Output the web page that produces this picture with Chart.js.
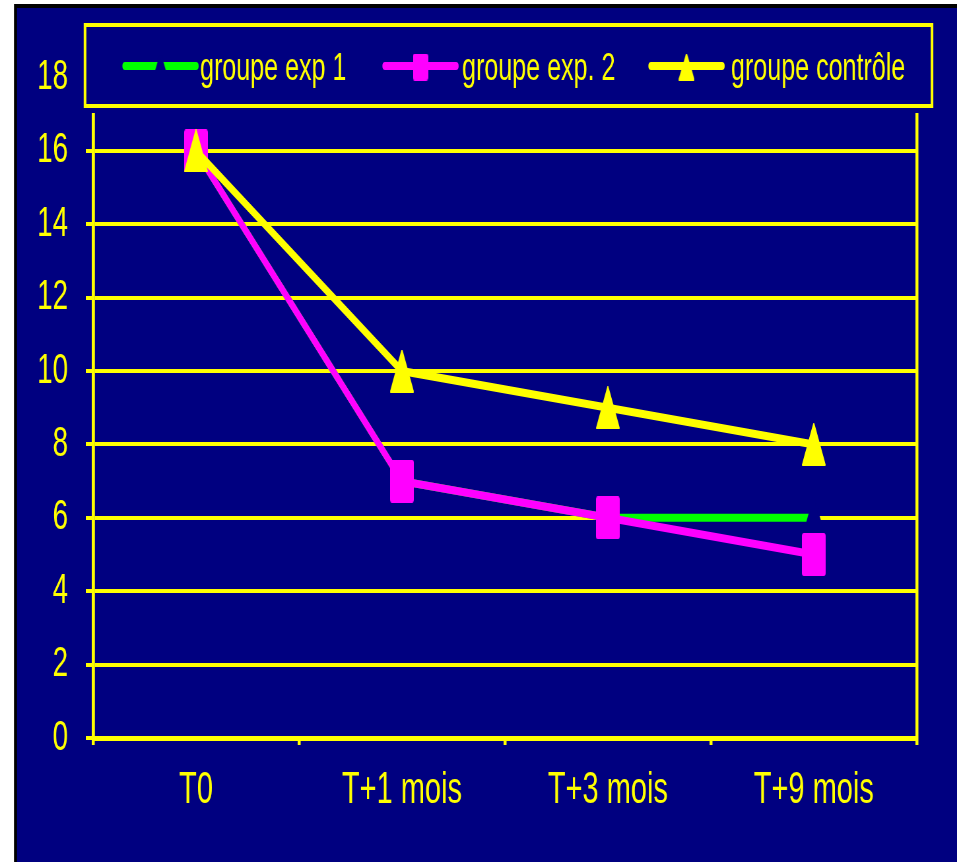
<!DOCTYPE html>
<html>
<head>
<meta charset="utf-8">
<script src="https://cdn.jsdelivr.net/npm/chart.js@4"></script>
<style>
    body { margin: 0; background: white; overflow: hidden; }
    #wrap { position: absolute; left: 0; top: 0; width: 1450px; height: 862px; transform: scaleX(0.66); transform-origin: 0 0; }
</style>
</head>
<body>
<div id="wrap"><canvas id="lineChart" width="1450" height="862"></canvas></div>
<script>
// DATA
let categories = ['T0', 'T+1 mois', 'T+3 mois', 'T+9 mois'];
let seriesNames = ['groupe exp 1', 'groupe exp. 2', 'groupe contrôle'];
let groupeExp1 = [16, 7, 6, 6];
let groupeExp2 = [16, 7, 6, 5];
let groupeControle = [16, 10, 9, 8];
let yMin = 0;
let yMax = 18;
let yStep = 2;

let navy = '#000080';
let yellow = '#ffff00';
let magenta = '#ff00ff';
let green = '#00ff00';
let fontFamily = '"Liberation Sans", Arial, sans-serif';

// the whole picture is squeezed sideways (markers taller than wide),
// so everything is drawn 1/0.66 wider and scaled back with css
let sx = 0.66;

// MARKERS
function triangleImg(w, h, color) {
    let c = document.createElement('canvas');
    c.width = w; c.height = h;
    let x = c.getContext('2d');
    x.fillStyle = color; x.strokeStyle = color;
    x.lineWidth = 2; x.lineJoin = 'round';
    x.beginPath();
    x.moveTo(w / 2, 1);
    x.lineTo(w - 1, h - 1);
    x.lineTo(1, h - 1);
    x.closePath();
    x.fill(); x.stroke();
    return c;
}

function rectImg(w, h, color) {
    let c = document.createElement('canvas');
    c.width = w; c.height = h;
    let x = c.getContext('2d');
    x.fillStyle = color;
    x.beginPath();
    x.roundRect(0, 0, w, h, 3);
    x.fill();
    return c;
}

let markers = [
    triangleImg(36, 43, navy),
    rectImg(36, 43, magenta),
    triangleImg(36, 43, yellow)
];
let legendMarkers = [
    triangleImg(24, 27, navy),
    rectImg(23, 27, magenta),
    triangleImg(24, 27, yellow)
];
let colors = [green, magenta, yellow];

// BACKGROUND
let background = {
    id: 'background',
    beforeDraw(chart) {
        let ctx = chart.ctx;
        ctx.save();
        ctx.fillStyle = 'white';
        ctx.fillRect(0, 0, chart.width, chart.height);
        ctx.fillStyle = 'black';
        ctx.fillRect(14 / sx, 4, chart.width, chart.height);
        ctx.fillStyle = navy;
        ctx.fillRect(17 / sx, 8, chart.width, chart.height);
        ctx.restore();
    }
};

// LEGEND BOX (sits over the top of the plot)
let legendBox = {
    id: 'legendBox',
    afterDraw(chart) {
        let ctx = chart.ctx;
        ctx.save();
        ctx.fillStyle = navy;
        ctx.fillRect(79 / sx, 17, (939 - 79) / sx, 113 - 17);
        ctx.strokeStyle = yellow;
        ctx.lineWidth = 4;
        ctx.strokeRect(85 / sx, 25, (932 - 85) / sx, 106 - 25);

        let lineStart = [125, 385, 651];
        let textStart = [200, 462, 731];
        let cy = 66;
        for (let i = 0; i < seriesNames.length; i++) {
            let x1 = lineStart[i] / sx;
            let x2 = (lineStart[i] + 71) / sx;
            ctx.strokeStyle = colors[i];
            ctx.lineWidth = 8;
            ctx.lineCap = 'round';
            ctx.beginPath();
            ctx.moveTo(x1, cy);
            ctx.lineTo(x2, cy);
            ctx.stroke();
            let m = legendMarkers[i];
            ctx.drawImage(m, (x1 + x2) / 2 - m.width / 2, cy + 1 - m.height / 2);

            ctx.fillStyle = yellow;
            ctx.font = '38px ' + fontFamily;
            ctx.textBaseline = 'alphabetic';
            ctx.textAlign = 'left';
            ctx.fillText(seriesNames[i], textStart[i] / sx, 80);
        }
        ctx.restore();
    }
};

let lineChart = new Chart(document.querySelector('#lineChart'), {
    type: 'line',
    data: {
        labels: categories,
        datasets: [
            {
                label: seriesNames[0],
                data: groupeExp1,
                borderColor: green,
                borderWidth: 8,
                pointStyle: markers[0],
                pointRadius: 5,
                order: 3
            },
            {
                label: seriesNames[1],
                data: groupeExp2,
                borderColor: magenta,
                borderWidth: 8,
                pointStyle: markers[1],
                pointRadius: 5,
                order: 2
            },
            {
                label: seriesNames[2],
                data: groupeControle,
                borderColor: yellow,
                borderWidth: 8,
                pointStyle: markers[2],
                pointRadius: 5,
                order: 1
            }
        ]
    },
    options: {
        responsive: false,
        devicePixelRatio: 1,
        animation: false,
        layout: {
            padding: { top: 77.5, right: 61, bottom: 0, left: 0 }
        },
        plugins: {
            legend: { display: false },
            tooltip: { enabled: false }
        },
        scales: {
            x: {
                offset: true,
                afterFit(scale) { scale.height = 862 - 738; },
                border: { display: true, color: yellow, width: 5 },
                grid: {
                    offset: true,
                    drawOnChartArea: true,
                    color: (c) => (c.type !== 'tick' || c.index === 0) ? yellow : 'transparent',
                    tickColor: yellow,
                    lineWidth: 4.5,
                    tickLength: 7
                },
                ticks: {
                    color: yellow,
                    padding: 19,
                    maxRotation: 0,
                    autoSkip: false,
                    font: { family: fontFamily, size: 44 }
                }
            },
            y: {
                min: yMin,
                max: yMax,
                afterFit(scale) { scale.width = 141; },
                border: { display: true, color: yellow, width: 4.5 },
                grid: {
                    color: yellow,
                    tickColor: yellow,
                    lineWidth: 4,
                    tickLength: 11
                },
                ticks: {
                    stepSize: yStep,
                    color: yellow,
                    padding: 27,
                    font: { family: fontFamily, size: 42 }
                }
            }
        }
    },
    plugins: [background, legendBox]
});
</script>
</body>
</html>
